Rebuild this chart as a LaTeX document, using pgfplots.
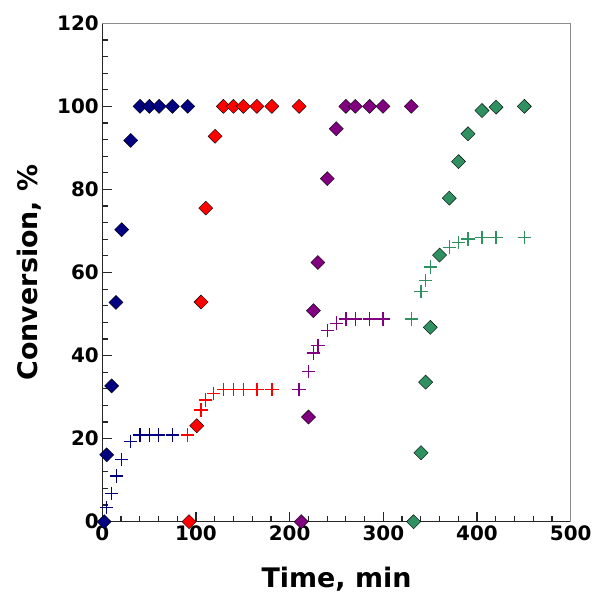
\documentclass[border=0pt]{standalone}
\usepackage{fontspec}
\setmainfont{DejaVu Sans}
\usepackage{pgfplots}
\pgfplotsset{compat=1.18}

\definecolor{cnavy}{RGB}{0,0,128}
\definecolor{cred}{RGB}{255,0,0}
\definecolor{cpurple}{RGB}{128,0,128}
\definecolor{cgreen}{RGB}{46,145,95}

\pgfplotsset{
  dia/.style={only marks, mark=square*, mark size=5pt,
    mark options={rotate=45, draw=none, fill=#1}},
  crs/.style={only marks, mark=+, mark size=6.7pt,
    mark options={draw=#1, line width=1.3pt}},
}

\begin{document}
\begin{tikzpicture}
  % fix the page to the reference size (axis box 468.4 x 498.4)
  \useasboundingbox (-102.3bp,-71.3bp) rectangle (491.7bp,521.7bp);
  \begin{axis}[
      at={(0,0)}, anchor=south west,
      scale only axis,
      width=468.4bp, height=498.4bp,
      xmin=0, xmax=500, ymin=0, ymax=120,
      xtick={0,100,...,500}, ytick={0,20,...,120},
      minor x tick num=4, minor y tick num=4,
      tick align=inside, tick pos=left,
      major tick length=10bp, minor tick length=5.5bp,
      every tick/.style={black!85, line width=1.2bp},
      axis lines*=left,
      axis line style={-, black!85, line width=1.3bp},
      clip=false,
      /pgf/number format/assume math mode=true,
      ticklabel style={font=\bfseries\fontsize{20}{24}\selectfont},
      xlabel={Time, min}, ylabel={Conversion, \%},
      label style={font=\bfseries\fontsize{27}{32}\selectfont},
      xlabel style={at={([yshift=-65.3bp]axis description cs:0.5,0)}, anchor=base},
      ylabel style={at={([xshift=-65bp]axis description cs:0,0.5)}, anchor=base, rotate=0},
    ]
    \draw[black!45, line width=0.8bp] (rel axis cs:0,1) -- (rel axis cs:1,1) -- (rel axis cs:1,0);

    % step 1 (navy)
    \addplot[crs=cnavy] coordinates {(4.7,3.4)(10,6.8)(15.4,11)(20.7,14.9)(30.3,19.3)(40.3,20.9)(50.2,20.9)(60.1,20.9)(74.8,20.9)(91,20.9)};
    \addplot[dia=cnavy] coordinates {(2,0)(4.7,16.1)(10,32.7)(14.6,52.8)(20.7,70.3)(30.3,91.8)(40.3,100)(50.2,100)(60.6,100)(74.8,100)(91.2,100)};
    % step 2 (red)
    \addplot[crs=cred] coordinates {(91,20.9)(100.8,23)(105.4,26.9)(110,29.3)(119,30.9)(129.3,31.9)(140,31.9)(150.6,31.9)(165,31.9)(181,31.9)(210.1,31.9)};
    \addplot[dia=cred] coordinates {(92.6,0)(100.8,23.1)(105.4,52.9)(110.4,75.5)(120.4,92.8)(129.3,100)(140,100)(150.6,100)(165,100)(181,100)(210.1,100)};
    % step 3 (purple)
    \addplot[crs=cpurple] coordinates {(210.1,31.9)(220.1,36.1)(225.4,40.6)(230.1,42.4)(240.1,46)(249.7,47.8)(260,48.8)(270,48.8)(285.3,48.8)(299.6,48.8)(329.8,48.8)};
    \addplot[dia=cpurple] coordinates {(212.3,0)(220.1,25.2)(225.4,50.8)(230.1,62.4)(240.1,82.6)(249.7,94.6)(260,100)(270,100)(285.3,100)(299.6,100)(329.8,100)};
    % step 4 (green)
    \addplot[crs=cgreen] coordinates {(329.8,48.8)(340.2,55.4)(345.1,58)(350.1,61.3)(360,64.3)(370.4,66.1)(380.3,67.2)(390.4,68.1)(405.3,68.5)(420.3,68.5)(450.5,68.5)};
    \addplot[dia=cgreen] coordinates {(332.3,0)(340.2,16.6)(345.1,33.6)(350.1,46.8)(360,64.2)(370.4,77.9)(380.3,86.7)(390.4,93.4)(405.3,99)(420.3,99.8)(450.5,100)};
  \end{axis}
\end{tikzpicture}
\end{document}
